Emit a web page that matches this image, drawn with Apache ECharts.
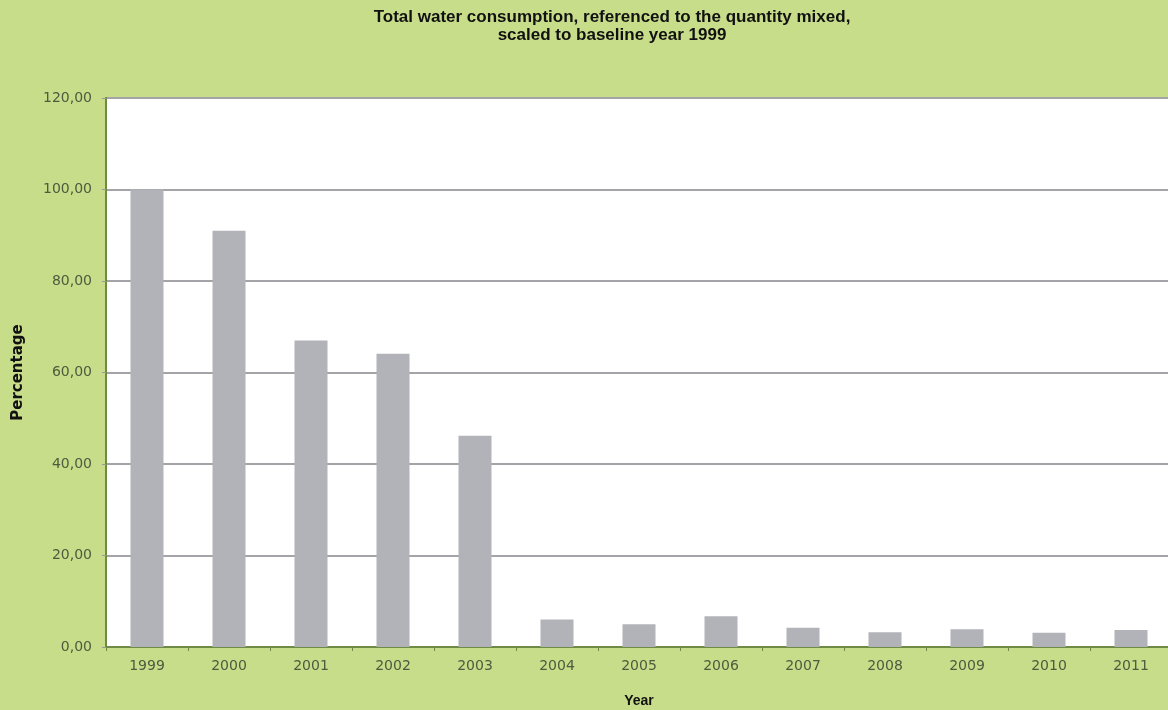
<!DOCTYPE html>
<html style="height: 100%">
<head>
    <meta charset="utf-8">
    <title>Total water consumption</title>
    <script src="https://cdn.jsdelivr.net/npm/echarts@6/dist/echarts.min.js"></script>
</head>
<body style="height: 100%; margin: 0; background: #c8dd8a">
    <div id="main" style="width: 1168px; height: 710px"></div>
    <script type="text/javascript">
        // data
        var years = ['1999', '2000', '2001', '2002', '2003', '2004', '2005', '2006', '2007', '2008', '2009', '2010', '2011'];
        var consumption = [100, 91.0, 67.0, 64.1, 46.2, 6.0, 5.0, 6.7, 4.2, 3.2, 3.9, 3.1, 3.7];
        var yTicks = [0, 20, 40, 60, 80, 100, 120];

        var labelColor = '#4f5a3e';
        var axisGreen = '#6f8a45';

        var myChart = echarts.init(document.getElementById('main'));

        var option = {
            backgroundColor: '#c8dd8a',
            animation: false,
            title: {
                text: 'Total water consumption, referenced to the quantity mixed,\nscaled to baseline year 1999',
                left: 607,
                top: 3,
                textAlign: 'center',
                textStyle: {
                    fontFamily: 'Liberation Sans',
                    fontSize: 17,
                    fontWeight: 'bold',
                    color: '#111',
                    lineHeight: 18
                }
            },
            grid: {
                left: 106,
                top: 98,
                width: 1066,
                bottom: 63,
                outerBoundsMode: 'none',
                containLabel: false,
                show: true,
                backgroundColor: '#ffffff',
                borderColor: '#8aa35a',
                borderWidth: 2
            },
            xAxis: {
                type: 'category',
                data: years,
                name: 'Year',
                nameLocation: 'middle',
                nameGap: 47,
                nameTextStyle: {
                    fontFamily: 'Liberation Sans',
                    fontSize: 14,
                    fontWeight: 'bold',
                    color: '#111'
                },
                axisLine: { lineStyle: { color: axisGreen, width: 2 } },
                axisTick: { show: true, length: 4, lineStyle: { color: axisGreen } },
                axisLabel: {
                    margin: 12,
                    fontFamily: 'DejaVu Sans',
                    fontSize: 14,
                    color: labelColor
                }
            },
            yAxis: {
                type: 'value',
                min: yTicks[0],
                max: yTicks[yTicks.length - 1],
                interval: 20,
                name: 'Percentage',
                nameLocation: 'middle',
                nameRotate: 90,
                nameGap: 80,
                nameTextStyle: {
                    fontFamily: 'DejaVu Sans',
                    fontSize: 15,
                    fontWeight: 'bold',
                    color: '#111'
                },
                axisLine: { show: true, lineStyle: { color: axisGreen, width: 2 } },
                axisTick: { show: true, length: 4, lineStyle: { color: '#999' } },
                axisLabel: {
                    margin: 14,
                    fontFamily: 'DejaVu Sans',
                    fontSize: 14,
                    color: labelColor,
                    formatter: function (v) {
                        return v.toFixed(2).replace('.', ',');
                    }
                },
                splitLine: { lineStyle: { color: '#a4a4a8', width: 2 } }
            },
            series: [
                {
                    type: 'bar',
                    data: consumption,
                    barWidth: 33,
                    itemStyle: { color: '#b2b3b8' }
                }
            ]
        };

        myChart.setOption(option);
    </script>
</body>
</html>
